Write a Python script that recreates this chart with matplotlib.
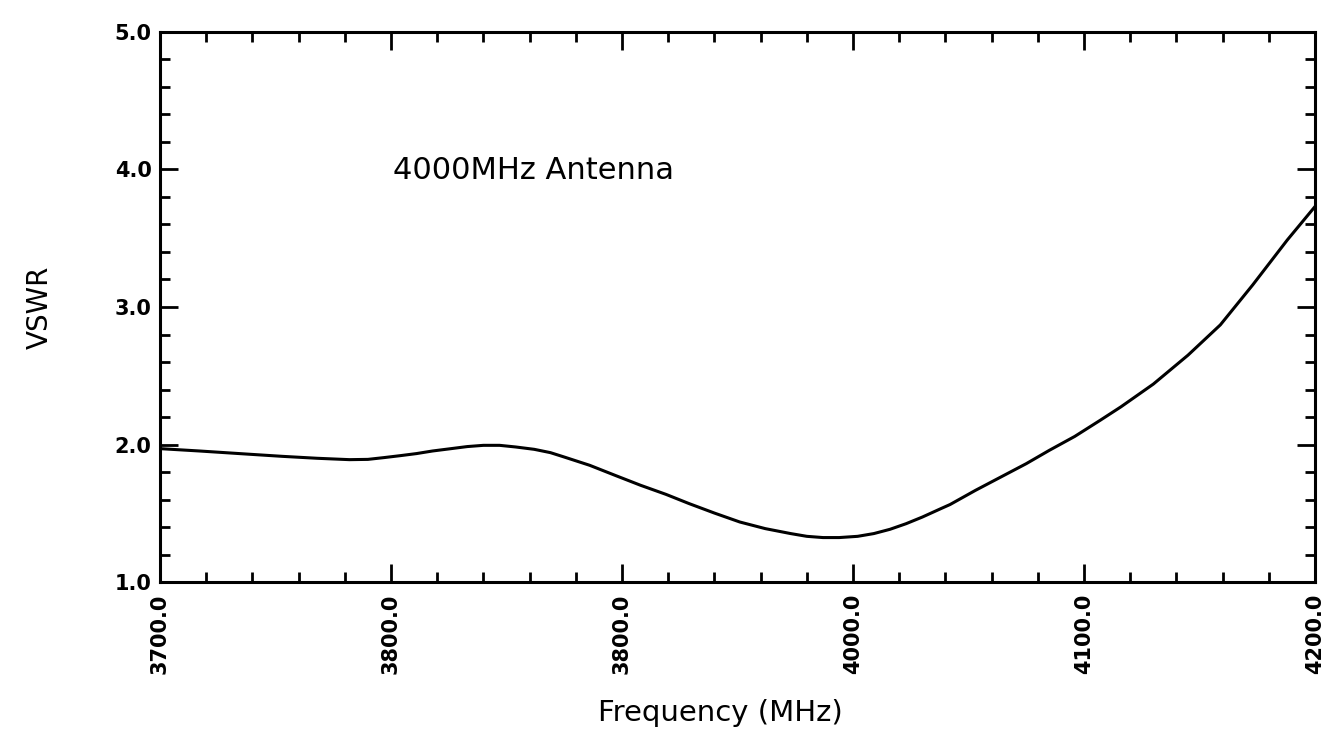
import matplotlib
matplotlib.use("Agg")
import matplotlib.pyplot as plt
from matplotlib.ticker import MultipleLocator

# VSWR
freq = [3700, 3717, 3739, 3753, 3768, 3782, 3790, 3797, 3804, 3811,
        3818, 3826, 3833, 3840, 3847, 3854, 3862, 3869, 3875, 3886,
        3897, 3908, 3919, 3929, 3940, 3951, 3962, 3973, 3980, 3987,
        3994, 4002, 4009, 4016, 4023, 4030, 4038, 4042, 4053, 4064,
        4075, 4085, 4096, 4107, 4116, 4130, 4145, 4159, 4173, 4188,
        4200]
vswr = [1.971, 1.954, 1.930, 1.915, 1.901, 1.891, 1.893, 1.906, 1.920, 1.935,
        1.954, 1.971, 1.986, 1.995, 1.995, 1.983, 1.966, 1.942, 1.910, 1.850,
        1.777, 1.705, 1.639, 1.572, 1.503, 1.438, 1.390, 1.354, 1.334, 1.325,
        1.325, 1.334, 1.354, 1.385, 1.426, 1.474, 1.535, 1.565, 1.668, 1.765,
        1.862, 1.959, 2.060, 2.177, 2.275, 2.440, 2.650, 2.870, 3.160, 3.487,
        3.73]

xticks = [3700, 3800, 3900, 4000, 4100, 4200]
xlabels = ["3700.0", "3800.0", "3800.0", "4000.0", "4100.0", "4200.0"]
yticks = [1.0, 2.0, 3.0, 4.0, 5.0]
ylabels = ["1.0", "2.0", "3.0", "4.0", "5.0"]

fig = plt.figure(figsize=(13.29, 7.40), dpi=100)
ax = fig.add_axes([0.1204, 0.2131, 0.8691, 0.7441])

ax.plot(freq, vswr, color="black", lw=2.2)

ax.set_xlim(3700, 4200)
ax.set_ylim(1.0, 5.0)
ax.set_xticks(xticks)
ax.set_xticklabels(xlabels, rotation=90, fontsize=15, fontweight="bold")
ax.set_yticks(yticks)
ax.set_yticklabels(ylabels, fontsize=15, fontweight="bold")
ax.xaxis.set_minor_locator(MultipleLocator(20))
ax.yaxis.set_minor_locator(MultipleLocator(0.2))

ax.tick_params(which="both", direction="in", top=True, right=True, width=2)
ax.tick_params(which="major", length=13)
ax.tick_params(which="minor", length=7)
ax.tick_params(axis="x", which="major", pad=8)
ax.tick_params(axis="y", which="major", pad=6)
for s in ax.spines.values():
    s.set_linewidth(2.2)

ax.text(3801, 3.99, "4000MHz Antenna", fontsize=22, va="center", ha="left")

fig.text(720 / 1329, 1 - 713 / 740, "Frequency (MHz)", fontsize=21,
         ha="center", va="center")
fig.text(40 / 1329, 1 - 307 / 740, "VSWR", fontsize=20, rotation=90,
         ha="center", va="center")

plt.savefig("out.png", dpi=100)
